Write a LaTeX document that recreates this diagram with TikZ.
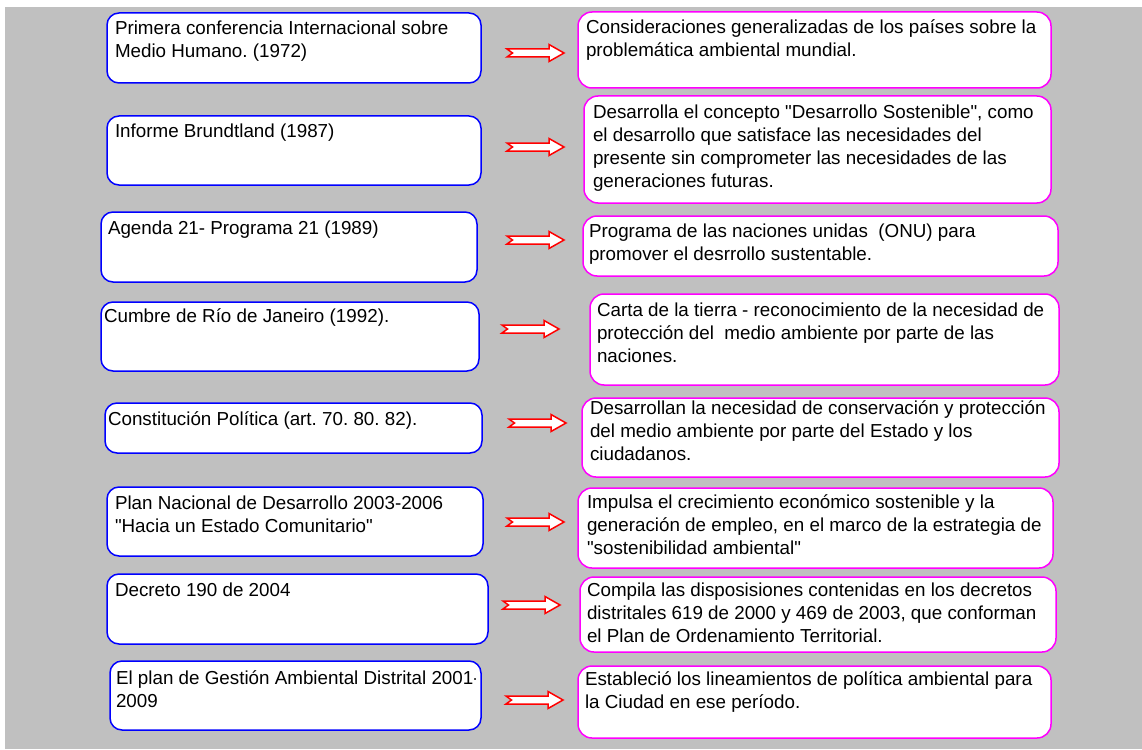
\documentclass[tikz,border=0pt]{standalone}
\usepackage{fontspec}
\setmainfont{Liberation Sans}[Ligatures=TeXOff]
\definecolor{bg}{HTML}{C0C0C0}
\definecolor{lblue}{HTML}{0000FF}
\definecolor{mag}{HTML}{FF00FF}
\newcommand{\ml}[1]{\begin{tabular}[t]{@{}l@{}}#1\end{tabular}}
\frenchspacing
\begin{document}
\begin{tikzpicture}[x=1pt,y=-1pt,
  font=\fontsize{18.8pt}{23pt}\selectfont,
  lbox/.style={draw=lblue,line width=1.5pt,fill=white,rounded corners=12pt,inner sep=0pt,outer sep=0pt,anchor=north west},
  rbox/.style={lbox,draw=mag,rounded corners=14pt},
  txt/.style={inner sep=0pt,outer sep=0pt,anchor=base west,text=black},
  barrow/.pic={\draw[red,line width=1.5pt,fill=white,line join=miter]
     (0,-4) -- (42,-4) -- (42,-8.5) -- (57,0) -- (42,8.5) -- (42,4) -- (0,4) -- (5.5,0) -- cycle;}]
\useasboundingbox (0,0) rectangle (1142,749);
\fill[white] (0,0) rectangle (1142,749);
\fill[bg] (5,7) rectangle (1142,749);

% left boxes
\node[lbox,minimum width=374pt,minimum height=70pt] (L1) at (107,13) {};
\node[lbox,minimum width=374pt,minimum height=69pt] (L2) at (107,116) {};
\node[lbox,minimum width=376pt,minimum height=70pt] (L3) at (101,212) {};
\node[lbox,minimum width=378pt,minimum height=69pt] (L4) at (101,302) {};
\node[lbox,minimum width=377pt,minimum height=50pt] (L5) at (105,403) {};
\node[lbox,minimum width=376pt,minimum height=69pt] (L6) at (107,487) {};
\node[lbox,minimum width=381pt,minimum height=70pt] (L7) at (107,574) {};
\node[lbox,minimum width=371pt,minimum height=69pt] (L8) at (110,661) {};

\node[txt] (L1t) at (115,35) {\ml{Primera conferencia Internacional sobre\\Medio Humano. (1972)}};
\node[txt] (L2t) at (115,138) {Informe Brundtland (1987)};
\node[txt] (L3t) at (108,234) {Agenda 21- Programa 21 (1989)};
\node[txt] (L4t) at (104,322) {Cumbre de Río de Janeiro (1992).};
\node[txt] (L5t) at (108,425) {Constitución Política (art. 70. 80. 82).};
\node[txt] (L6t) at (115,509) {\ml{Plan Nacional de Desarrollo 2003-2006\\"Hacia un Estado Comunitario"}};
\node[txt] (L7t) at (115,596) {Decreto 190 de 2004};
\begin{scope}
\clip (110,661) rectangle (475,730);
\node[txt] (L8t) at (116,684) {\ml{El plan de Gestión Ambiental Distrital 2001-\\2009}};
\end{scope}

% right boxes
\node[rbox,minimum width=473pt,minimum height=76pt] (R1) at (578,12) {};
\node[rbox,minimum width=467pt,minimum height=107pt] (R2) at (584,96) {};
\node[rbox,minimum width=475pt,minimum height=60pt] (R3) at (583,216) {};
\node[rbox,minimum width=469pt,minimum height=91pt] (R4) at (590,294) {};
\node[rbox,minimum width=477pt,minimum height=79pt] (R5) at (582,398) {};
\node[rbox,minimum width=475pt,minimum height=80pt] (R6) at (578,488) {};
\node[rbox,minimum width=476pt,minimum height=75pt] (R7) at (580,577) {};
\node[rbox,minimum width=473pt,minimum height=72pt] (R8) at (578,666) {};

\node[txt] (R1t) at (586,34) {\ml{Consideraciones generalizadas de los países sobre la\\problemática ambiental mundial.}};
\node[txt] (R2t) at (593,118) {\ml{Desarrolla el concepto "Desarrollo Sostenible", como\\el desarrollo que satisface las necesidades del\\presente sin comprometer las necesidades de las\\generaciones futuras.}};
\node[txt] (R3t) at (589,237) {\ml{Programa de las naciones unidas\ \ (ONU) para\\promover el desrrollo sustentable.}};
\node[txt] (R4t) at (597,316) {\ml{Carta de la tierra - reconocimiento de la necesidad de\\protección del\ \ medio ambiente por parte de las\\naciones.}};
\node[txt] (R5t) at (590,414) {\ml{Desarrollan la necesidad de conservación y protección\\del medio ambiente por parte del Estado y los\\ciudadanos.}};
\node[txt] (R6t) at (587,508) {\ml{Impulsa el crecimiento económico sostenible y la\\generación de empleo, en el marco de la estrategia de\\"sostenibilidad ambiental"}};
\node[txt] (R7t) at (587,596) {\ml{Compila las disposisiones contenidas en los decretos\\distritales 619 de 2000 y 469 de 2003, que conforman\\el Plan de Ordenamiento Territorial.}};
\node[txt] (R8t) at (585,685) {\ml{Estableció los lineamientos de política ambiental para\\la Ciudad en ese período.}};

% arrows
\pic at (507,53) {barrow};
\pic at (507,147) {barrow};
\pic at (507,240) {barrow};
\pic at (502,329) {barrow};
\pic at (509,423) {barrow};
\pic at (507,522) {barrow};
\pic at (503,605) {barrow};
\pic at (506,700) {barrow};
\end{tikzpicture}
\end{document}
